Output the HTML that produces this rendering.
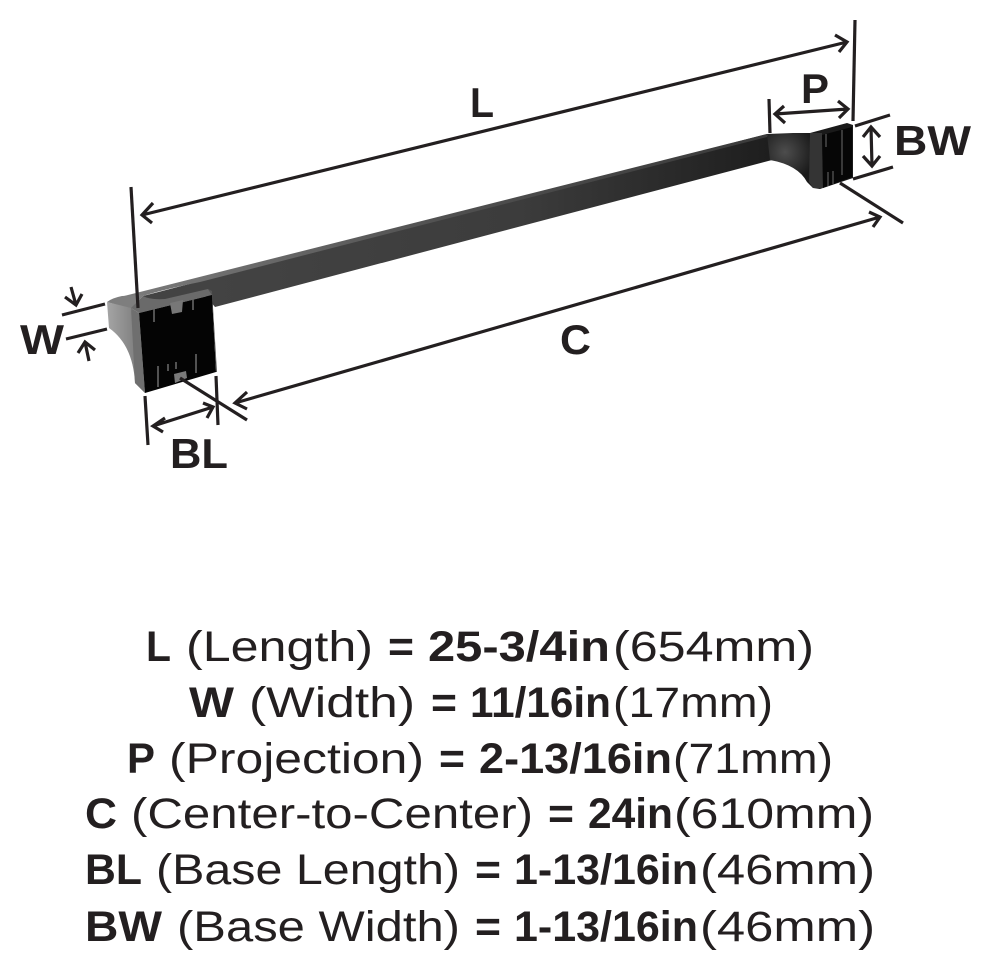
<!DOCTYPE html>
<html><head><meta charset="utf-8"><style>
html,body{margin:0;padding:0;background:#fff}
svg{display:block}
text{font-family:"Liberation Sans",sans-serif;fill:#231f20;font-size:43px}
.b{font-weight:bold}
.d{font-size:42px;font-weight:bold}
.l{fill:none;stroke:#231f20;stroke-width:3.2}
</style></head><body>
<svg width="990" height="968" viewBox="0 0 990 968" xmlns="http://www.w3.org/2000/svg">
<defs>
<linearGradient id="bs" x1="213" y1="0" x2="770" y2="0" gradientUnits="userSpaceOnUse"><stop offset="0" stop-color="#434343"/><stop offset=".55" stop-color="#3c3c3c"/><stop offset="1" stop-color="#1e1e1e"/></linearGradient>
<linearGradient id="bt" x1="120" y1="0" x2="770" y2="0" gradientUnits="userSpaceOnUse"><stop offset="0" stop-color="#7c7c7c"/><stop offset=".5" stop-color="#505050"/><stop offset="1" stop-color="#3a3a3a"/></linearGradient>
<linearGradient id="sd" x1="107" y1="0" x2="140" y2="0" gradientUnits="userSpaceOnUse"><stop offset="0" stop-color="#a5a5a5"/><stop offset="1" stop-color="#7a7a7a"/></linearGradient>
<radialGradient id="rb" cx="785" cy="152" r="30" gradientUnits="userSpaceOnUse"><stop offset="0" stop-color="#4d4d4d"/><stop offset="1" stop-color="#1a1a1a"/></radialGradient>
</defs>
<!-- bar -->
<path d="M143 296 L767 134 L772 160 L215 307 L205 295 L165 303 L145 303 Z" fill="url(#bs)"/>
<path d="M120 297 L767 134 L767 137 L340 246 L200 282 Q165 289 143 296 L131 308 L110 302 Z" fill="url(#bt)"/>
<!-- left bracket -->
<path d="M107 302 Q112 298 122 296 L143 295 L131 309 Z" fill="#7e7e7e"/>
<path d="M107 302 L131 308 L145 393 L135 383 Q133 345 109 328 Z" fill="url(#sd)"/>
<path d="M143 296 Q150 300 165 299 L208 289 L212 295 L139 313 L131 308 Z" fill="#6a6a6a"/>
<path d="M131 308 L139 313 L145 393 L135 383 Z" fill="#6f6f6f"/>
<path d="M139 313 L212 295 L216 372 L145 393 Z" fill="#040404"/>
<path d="M212 295 L208 289 L212 291 L217 372 L216 372 Z" fill="#555"/>
<path d="M170 303 L183 300 L182 312 L172 314 Z" fill="#777"/>
<path d="M174 374 L186 371 L187 378 L175 383 Z" fill="#7a7a7a"/>
<path d="M154 309 V322 M193 299 V310 M158 366 V387 M196 354 V373 M168 364 V371 M176 362 V369" stroke="#666" stroke-width="1.6" fill="none"/>
<!-- right bracket -->
<path d="M767 134 L793 133 L810 133 L847 123 L853 125 L853 178 L820 189 L813 188 L807 182 Q798 165 770 160 Z" fill="url(#rb)"/>
<path d="M810 133 L822 133 L823 188 L813 188 L809 182 Z" fill="#343434"/>
<path d="M822 135 L852 127 L852 177 L823 188 Z" fill="#060606"/>
<path d="M826 134 V147 M842 130 V175 M828 172 V186 M833 171 V184" stroke="#555" stroke-width="1.3" fill="none"/>
<!-- dimension lines -->
<g class="l" stroke-linecap="butt">
<path d="M131 187 L138 308"/>
<path d="M855 20 L853 121"/>
<path d="M142 215 L847 42 M153 203 L142 215 L152 223 M835 35 L847 42 L839 52"/>
<path d="M769 99 L770 133"/>
<path d="M775 114 L848 109 M784 106 L775 114 L785 123 M838 101 L848 109 L839 118"/>
<path d="M855 126 L890 115 M853 179 L893 167"/>
<path d="M871 127 L872 166 M863 137 L871 127 L880 137 M863 156 L872 166 L880 156"/>
<path d="M840 183 L903 223"/>
<path d="M235 403 L880 217 M247 392 L235 403 L247 409 M869 212 L880 217 L873 227"/>
<path d="M180 378 L247 420"/>
<path d="M216 376 L218 425"/>
<path d="M145 396 L148 445"/>
<path d="M153 426 L213 407 M165 418 L153 426 L163 432 M203 403 L213 407 L207 418"/>
<path d="M62 315 L105 304 M66 339 L107 329"/>
<path d="M71 287 L76 305 M65 297 L76 305 L82 294"/>
<path d="M89 361 L85 342 M78 353 L85 342 L95 350"/>
</g>
<!-- labels -->
<text class="d" x="470" y="117" textLength="24" lengthAdjust="spacingAndGlyphs">L</text>
<text class="d" x="560" y="354" textLength="31" lengthAdjust="spacingAndGlyphs">C</text>
<text class="d" x="801" y="103" textLength="28" lengthAdjust="spacingAndGlyphs">P</text>
<text class="d" x="894" y="155" textLength="77" lengthAdjust="spacingAndGlyphs">BW</text>
<text class="d" x="20" y="354" textLength="44" lengthAdjust="spacingAndGlyphs">W</text>
<text class="d" x="170" y="468" textLength="58" lengthAdjust="spacingAndGlyphs">BL</text>
<!-- spec text -->
<text class="b" x="146" y="661" textLength="25" lengthAdjust="spacingAndGlyphs">L</text>
<text x="186" y="661" textLength="187" lengthAdjust="spacingAndGlyphs">(Length)</text>
<text class="b" x="388" y="661" textLength="26" lengthAdjust="spacingAndGlyphs">=</text>
<text class="b" x="428" y="661" textLength="182" lengthAdjust="spacingAndGlyphs">25-3/4in</text>
<text x="613" y="661" textLength="201" lengthAdjust="spacingAndGlyphs">(654mm)</text>

<text class="b" x="189" y="717" textLength="45" lengthAdjust="spacingAndGlyphs">W</text>
<text x="249" y="717" textLength="166" lengthAdjust="spacingAndGlyphs">(Width)</text>
<text class="b" x="431" y="717" textLength="26" lengthAdjust="spacingAndGlyphs">=</text>
<text class="b" x="470" y="717" textLength="141" lengthAdjust="spacingAndGlyphs">11/16in</text>
<text x="613" y="717" textLength="160" lengthAdjust="spacingAndGlyphs">(17mm)</text>

<text class="b" x="127" y="773" textLength="28" lengthAdjust="spacingAndGlyphs">P</text>
<text x="169" y="773" textLength="255" lengthAdjust="spacingAndGlyphs">(Projection)</text>
<text class="b" x="439" y="773" textLength="26" lengthAdjust="spacingAndGlyphs">=</text>
<text class="b" x="479" y="773" textLength="193" lengthAdjust="spacingAndGlyphs">2-13/16in</text>
<text x="673" y="773" textLength="160" lengthAdjust="spacingAndGlyphs">(71mm)</text>

<text class="b" x="85" y="828" textLength="32" lengthAdjust="spacingAndGlyphs">C</text>
<text x="131" y="828" textLength="402" lengthAdjust="spacingAndGlyphs">(Center-to-Center)</text>
<text class="b" x="548" y="828" textLength="26" lengthAdjust="spacingAndGlyphs">=</text>
<text class="b" x="588" y="828" textLength="85" lengthAdjust="spacingAndGlyphs">24in</text>
<text x="674" y="828" textLength="200" lengthAdjust="spacingAndGlyphs">(610mm)</text>

<text class="b" x="85" y="884" textLength="57" lengthAdjust="spacingAndGlyphs">BL</text>
<text x="156" y="884" textLength="304" lengthAdjust="spacingAndGlyphs">(Base Length)</text>
<text class="b" x="475" y="884" textLength="26" lengthAdjust="spacingAndGlyphs">=</text>
<text class="b" x="514" y="884" textLength="184" lengthAdjust="spacingAndGlyphs">1-13/16in</text>
<text x="700" y="884" textLength="175" lengthAdjust="spacingAndGlyphs">(46mm)</text>

<text class="b" x="85" y="941" textLength="77" lengthAdjust="spacingAndGlyphs">BW</text>
<text x="177" y="941" textLength="283" lengthAdjust="spacingAndGlyphs">(Base Width)</text>
<text class="b" x="475" y="941" textLength="26" lengthAdjust="spacingAndGlyphs">=</text>
<text class="b" x="514" y="941" textLength="184" lengthAdjust="spacingAndGlyphs">1-13/16in</text>
<text x="700" y="941" textLength="175" lengthAdjust="spacingAndGlyphs">(46mm)</text>
</svg>
</body></html>
